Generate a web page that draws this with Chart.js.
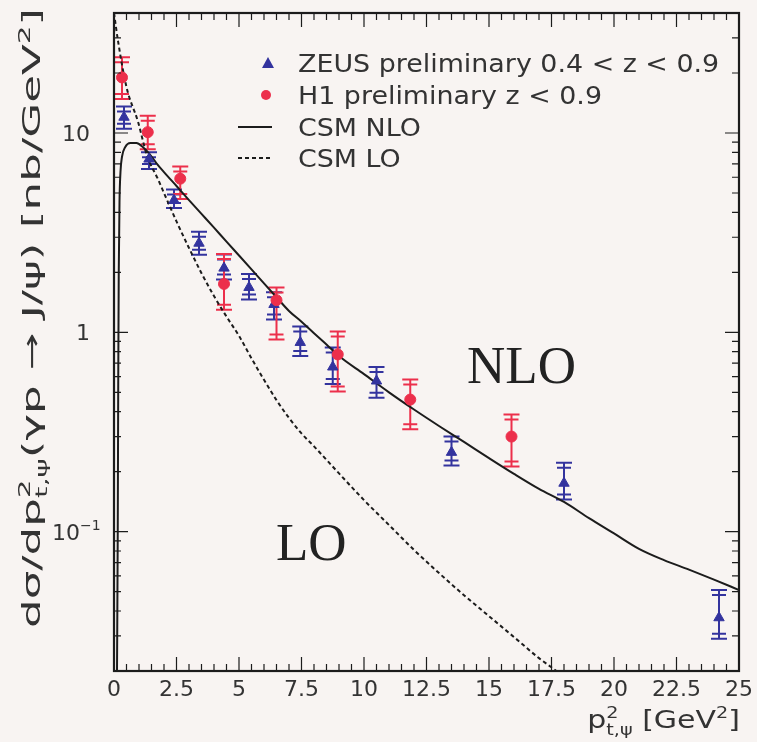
<!DOCTYPE html>
<html lang="en">
<head>
<meta charset="UTF-8">
<title>J/psi photoproduction, p_t^2 spectrum</title>
<script src="https://cdn.jsdelivr.net/npm/chart.js"></script>
<style>
  html, body { margin: 0; background: #f8f4f2; }
  canvas { display: block; }
</style>
</head>
<body>
<canvas id="ptChart" width="757" height="742"></canvas>
<script>
// ZEUS preliminary, 0.4 < z < 0.9  (x = pt^2 in GeV^2, y in nb/GeV^2)
const zeusX  = [0.4, 1.4, 2.4, 3.4, 4.4, 5.4, 6.4, 7.45, 8.75, 10.5, 13.5, 18.0, 24.2];
const zeusY  = [12.0, 7.4, 4.6, 2.8, 2.1, 1.68, 1.38, 0.89, 0.67, 0.57, 0.25, 0.175, 0.037];
const zeusLo = [10.5, 6.6, 4.2, 2.45, 1.84, 1.46, 1.16, 0.76, 0.55, 0.47, 0.215, 0.145, 0.029];
const zeusHi = [13.6, 8.0, 5.2, 3.2, 2.46, 1.96, 1.59, 1.07, 0.84, 0.67, 0.30, 0.222, 0.051];

// H1 preliminary, z < 0.9
const h1X  = [0.32, 1.35, 2.65, 4.4, 6.5, 8.95, 11.85, 15.9];
const h1Y  = [19.0, 10.1, 5.9, 1.75, 1.45, 0.775, 0.46, 0.30];
const h1Lo = [14.8, 8.3, 4.66, 1.3, 0.92, 0.505, 0.326, 0.212];
const h1Hi = [24.0, 12.2, 6.8, 2.47, 1.68, 1.01, 0.58, 0.387];

// colour singlet model, NLO
const nloX = [0.12, 0.15, 0.17, 0.19, 0.22, 0.26, 0.32, 0.45, 0.65, 0.9, 1.15, 1.4, 1.7, 2.0, 2.5,
              3.0, 3.5, 4.0, 4.5, 5.0, 5.5, 6.0, 6.5, 7.0, 7.5, 8.0, 8.5, 9.0, 10.0, 11.0, 12.0,
              13.0, 14.0, 15.0, 16.0, 17.0, 18.0, 19.0, 20.0, 21.0, 22.0, 23.0, 24.0, 25.0];
const nloY = [0.02, 0.1, 0.6, 2.0, 4.5, 6.4, 7.6, 8.5, 8.9, 8.9, 8.5, 7.9, 7.05, 6.37, 5.42,
              4.61, 3.93, 3.35, 2.85, 2.43, 2.07, 1.76, 1.5, 1.28, 1.13, 0.99, 0.87, 0.76, 0.617, 0.5, 0.41,
              0.339, 0.282, 0.234, 0.195, 0.164, 0.141, 0.117, 0.098, 0.082, 0.072, 0.0645, 0.0575, 0.051];

// colour singlet model, LO
const loX = [0, 0.16, 0.5, 0.96, 1.32, 1.75, 2.0, 2.5, 3.0, 3.5, 4.0, 4.5, 5.0, 5.5, 6.0, 6.5, 7.0,
             7.5, 8.0, 9.0, 10.0, 11.0, 12.0, 13.0, 14.0, 15.0, 16.0, 17.0, 17.7];
const loY = [40, 29, 17, 11.4, 7.7, 5.9, 5.0, 3.6, 2.65, 1.98, 1.52, 1.2, 0.96, 0.74, 0.578, 0.457, 0.372,
             0.311, 0.268, 0.196, 0.144, 0.108, 0.081, 0.062, 0.048, 0.0377, 0.0296, 0.0232, 0.02];

const xTickStep = 0.5;
const xLabelStep = 2.5;
// decade labels on the log axis: [value, mantissa text, exponent text]
const yDecades = [[10, '10', ''], [1, '1', ''], [0.1, '10', '\u22121']];

const BLUE = '#33339e';
const RED = '#ec2f4b';
const INK = '#1c1c1c';
const TEXT = '#333';
const FAM = '"DejaVu Sans"';

const pts = (xs, ys) => xs.map((x, i) => ({ x: x, y: ys[i] }));
const isMajorX = v => Math.abs(v / xLabelStep - Math.round(v / xLabelStep)) < 1e-6;

// text pieces with sub/superscripts; a 'sup' right after a 'sub' is stacked on it
function richWidth(ctx, segs, size) {
  let w = 0, subW = 0;
  segs.forEach(([t, kind]) => {
    ctx.font = (kind === 'n' ? size : Math.round(size * 0.62)) + 'px ' + FAM;
    const tw = ctx.measureText(t).width;
    if (kind === 'sub') { subW = tw; w += tw; }
    else if (kind === 'sup' && subW) { w += Math.max(0, tw - subW); subW = 0; }
    else { w += tw; subW = 0; }
  });
  return w;
}
function drawRich(ctx, segs, size) {
  let x = 0, subStart = 0, subW = 0;
  segs.forEach(([t, kind]) => {
    ctx.font = (kind === 'n' ? size : Math.round(size * 0.62)) + 'px ' + FAM;
    const tw = ctx.measureText(t).width;
    if (kind === 'n') { ctx.fillText(t, x, 0); x += tw; subW = 0; }
    else if (kind === 'sub') { ctx.fillText(t, x, size * 0.28); subStart = x; subW = tw; x += tw; }
    else {
      const sx = subW ? subStart : x;
      ctx.fillText(t, sx, -size * 0.42);
      x = subW ? Math.max(x, sx + tw) : x + tw;
      subW = 0;
    }
  });
}

const yTitle = [['d\u03C3/dp', 'n'], ['t,\u03C8', 'sub'], ['2', 'sup'],
                ['(\u03B3p \u2192 J/\u03C8) [nb/GeV', 'n'], ['2', 'sup'], [']', 'n']];
const xTitle = [['p', 'n'], ['t,\u03C8', 'sub'], ['2', 'sup'], [' [GeV', 'n'], ['2', 'sup'], [']', 'n']];

const legendRows = [
  { text: 'ZEUS preliminary 0.4 < z < 0.9', y: 63, kind: 'tri' },
  { text: 'H1 preliminary z < 0.9', y: 95, kind: 'dot' },
  { text: 'CSM NLO', y: 127, kind: 'solid' },
  { text: 'CSM LO', y: 158, kind: 'dash' }
];

const errorBars = {
  id: 'errorBars',
  beforeDatasetsDraw(chart) {
    const { ctx, scales: { x, y } } = chart;
    ctx.save();
    chart.data.datasets.forEach(ds => {
      if (!ds.errLo) return;
      ctx.strokeStyle = ds.borderColor;
      ctx.lineWidth = 2;
      ds.data.forEach((p, i) => {
        const px = x.getPixelForValue(p.x);
        const top = y.getPixelForValue(ds.errHi[i]);
        const bot = y.getPixelForValue(ds.errLo[i]);
        ctx.beginPath();
        ctx.moveTo(px, top); ctx.lineTo(px, bot);
        [[top, 5], [bot, -5]].forEach(([py, step]) => {
          ctx.moveTo(px - 8, py); ctx.lineTo(px + 8, py);
          ctx.moveTo(px - 7, py + step); ctx.lineTo(px + 7, py + step);
        });
        ctx.stroke();
      });
    });
    ctx.restore();
  }
};

const frame = {
  id: 'frame',
  afterDatasetsDraw(chart) {
    const { ctx, chartArea: a, scales: { x, y } } = chart;
    ctx.save();
    ctx.strokeStyle = INK;
    ctx.lineWidth = 1.2;
    ctx.beginPath();
    x.ticks.forEach(t => {
      const px = x.getPixelForValue(t.value);
      const len = isMajorX(t.value) ? 14 : 7;
      ctx.moveTo(px, a.bottom); ctx.lineTo(px, a.bottom - len);
      ctx.moveTo(px, a.top); ctx.lineTo(px, a.top + len);
    });
    for (let d = -2; d <= 1; d++) {
      for (let m = 1; m <= 9; m++) {
        const v = m * Math.pow(10, d);
        if (v < y.min || v > y.max) continue;
        const py = y.getPixelForValue(v);
        const len = m === 1 ? 14 : 7;
        ctx.moveTo(a.left, py); ctx.lineTo(a.left + len, py);
        ctx.moveTo(a.right, py); ctx.lineTo(a.right - len, py);
      }
    }
    ctx.stroke();
    ctx.lineWidth = 2.2;
    ctx.strokeRect(a.left, a.top, a.right - a.left, a.bottom - a.top);
    ctx.restore();
  },
  afterDraw(chart) {
    const { ctx, scales: { y } } = chart;
    ctx.save();
    ctx.fillStyle = TEXT;
    ctx.textBaseline = 'alphabetic';

    // decade labels of the y axis
    yDecades.forEach(([v, base, exp]) => {
      const py = y.getPixelForValue(v) + 8;
      ctx.save();
      if (exp) {
        ctx.translate(52, py);
        drawRich(ctx, [[base, 'n'], [exp, 'sup']], 22);
      } else {
        ctx.font = '22px ' + FAM;
        ctx.textAlign = 'right';
        ctx.fillText(base, 90, py);
      }
      ctx.restore();
    });

    // legend
    legendRows.forEach(r => {
      ctx.save();
      if (r.kind === 'tri') {
        ctx.fillStyle = BLUE;
        ctx.beginPath();
        ctx.moveTo(268, r.y - 6); ctx.lineTo(274, r.y + 5); ctx.lineTo(262, r.y + 5);
        ctx.closePath(); ctx.fill();
      } else if (r.kind === 'dot') {
        ctx.fillStyle = RED;
        ctx.beginPath(); ctx.arc(266, r.y, 5, 0, Math.PI * 2); ctx.fill();
      } else {
        ctx.strokeStyle = INK;
        ctx.lineWidth = 2;
        if (r.kind === 'dash') ctx.setLineDash([4, 3]);
        ctx.beginPath(); ctx.moveTo(238, r.y); ctx.lineTo(272, r.y); ctx.stroke();
      }
      ctx.restore();
      ctx.save();
      ctx.font = '24px ' + FAM;
      ctx.translate(298, r.y + 9);
      ctx.scale(1.12, 1);
      ctx.fillText(r.text, 0, 0);
      ctx.restore();
    });

    // curve labels
    ctx.fillStyle = '#222';
    ctx.font = '53px "Liberation Serif"';
    ctx.fillText('NLO', 467, 383);
    ctx.fillText('LO', 276, 560);

    // y axis title, stretched to run along the axis
    ctx.fillStyle = TEXT;
    const yw = richWidth(ctx, yTitle, 25);
    ctx.save();
    ctx.translate(40, 628);
    ctx.rotate(-Math.PI / 2);
    ctx.scale(620 / yw, 1);
    drawRich(ctx, yTitle, 25);
    ctx.restore();

    // x axis title, right aligned under the axis
    const xw = richWidth(ctx, xTitle, 25) * 1.2;
    ctx.save();
    ctx.translate(740 - xw, 728);
    ctx.scale(1.2, 1);
    drawRich(ctx, xTitle, 25);
    ctx.restore();

    ctx.restore();
  }
};

const chart = new Chart(document.getElementById('ptChart'), {
  type: 'scatter',
  data: {
    datasets: [
      {
        label: 'ZEUS preliminary 0.4 < z < 0.9',
        data: pts(zeusX, zeusY),
        errLo: zeusLo, errHi: zeusHi,
        pointStyle: 'triangle', pointRadius: 6,
        backgroundColor: BLUE, borderColor: BLUE, borderWidth: 1,
        order: 1
      },
      {
        label: 'H1 preliminary z < 0.9',
        data: pts(h1X, h1Y),
        errLo: h1Lo, errHi: h1Hi,
        pointStyle: 'circle', pointRadius: 5.5,
        backgroundColor: RED, borderColor: RED, borderWidth: 1,
        order: 0
      },
      {
        label: 'CSM NLO',
        data: pts(nloX, nloY),
        showLine: true, pointRadius: 0,
        borderColor: INK, borderWidth: 2,
        cubicInterpolationMode: 'monotone',
        order: 2
      },
      {
        label: 'CSM LO',
        data: pts(loX, loY),
        showLine: true, pointRadius: 0,
        borderColor: INK, borderWidth: 2, borderDash: [4, 3],
        cubicInterpolationMode: 'monotone',
        order: 3
      }
    ]
  },
  options: {
    responsive: false,
    animation: false,
    layout: { padding: { top: 13, right: 18, left: 0, bottom: 0 } },
    plugins: { legend: { display: false }, tooltip: { enabled: false } },
    scales: {
      x: {
        type: 'linear', min: 0, max: 25,
        afterFit: s => { s.height = 71; s.paddingLeft = 0; s.paddingRight = 0; },
        grid: { display: false, drawTicks: false },
        border: { display: false },
        ticks: {
          stepSize: xTickStep, autoSkip: false, maxRotation: 0, padding: 6,
          color: TEXT, font: { family: 'DejaVu Sans', size: 22 },
          callback: v => isMajorX(v) ? String(Math.round(v * 10) / 10) : ''
        }
      },
      y: {
        type: 'logarithmic', min: 0.02, max: 40,
        afterFit: s => { s.width = 114; s.paddingTop = 0; s.paddingBottom = 0; },
        grid: { display: false, drawTicks: false },
        border: { display: false },
        ticks: { display: false, autoSkip: false }
      }
    }
  },
  plugins: [errorBars, frame]
});
</script>
</body>
</html>
